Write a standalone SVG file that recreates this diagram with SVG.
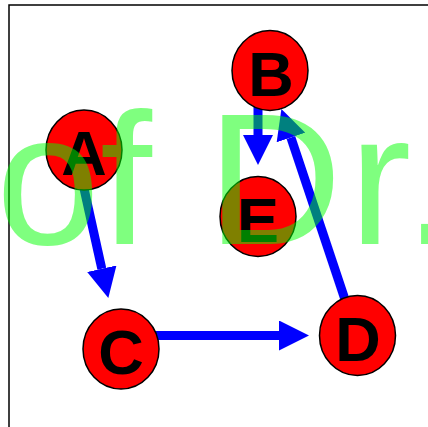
<svg xmlns="http://www.w3.org/2000/svg" width="428" height="427" viewBox="0 0 428 427">
  <style>
    .frame { fill: none; stroke: #000; stroke-width: 1.5; }
    .edge { fill: none; stroke: #0000ff; stroke-width: 9; }
    .node ellipse { fill: #ff0000; stroke: #000; stroke-width: 1.5; }
    .node text { font-family: "Liberation Sans", Arial, sans-serif; font-weight: bold; font-size: 63px; text-anchor: middle; fill: #000; }
    .overlay { font-family: "Liberation Sans", Arial, sans-serif; font-size: 187px; fill: #00ff00; fill-opacity: 0.5; }
  </style>
  <defs>
    <marker id="head" markerUnits="userSpaceOnUse" markerWidth="30" markerHeight="30" refX="0" refY="14" orient="auto" viewBox="0 0 28 28">
      <path d="M0,0 L28,14 L0,28 Z" fill="#0000ff"/>
    </marker>
  </defs>

  <!-- frame along the left and top edges -->
  <path class="frame" d="M9,427 V5 H428"/>

  <!-- connectors -->
  <g id="edges">
    <path id="edge-A-C" class="edge" d="M83,184 L101.8,268.7" marker-end="url(#head)"/>
    <path id="edge-B-E" class="edge" d="M258,104 L258,135" marker-end="url(#head)"/>
    <path id="edge-D-B" class="edge" d="M346.5,304 L290.9,137.5" marker-end="url(#head)"/>
    <path id="edge-C-D" class="edge" d="M150,335.5 L279,335.5" marker-end="url(#head)"/>
  </g>

  <!-- nodes -->
  <g id="node-A" class="node">
    <ellipse cx="84" cy="150" rx="38" ry="40"/>
    <text x="84" y="175">A</text>
  </g>
  <g id="node-B" class="node">
    <ellipse cx="270" cy="70.5" rx="38" ry="40"/>
    <text x="271" y="95.5">B</text>
  </g>
  <g id="node-E" class="node">
    <ellipse cx="258" cy="216.5" rx="38" ry="40"/>
    <text x="258" y="241.5">E</text>
  </g>
  <g id="node-C" class="node">
    <ellipse cx="121" cy="349" rx="38" ry="40"/>
    <text x="121" y="374">C</text>
  </g>
  <g id="node-D" class="node">
    <ellipse cx="357.5" cy="335.5" rx="38" ry="40"/>
    <text x="358" y="361">D</text>
  </g>

  <!-- translucent caption laid over everything -->
  <text class="overlay" x="-4 100 152 207 349 404" y="244">of Dr.</text>
</svg>
